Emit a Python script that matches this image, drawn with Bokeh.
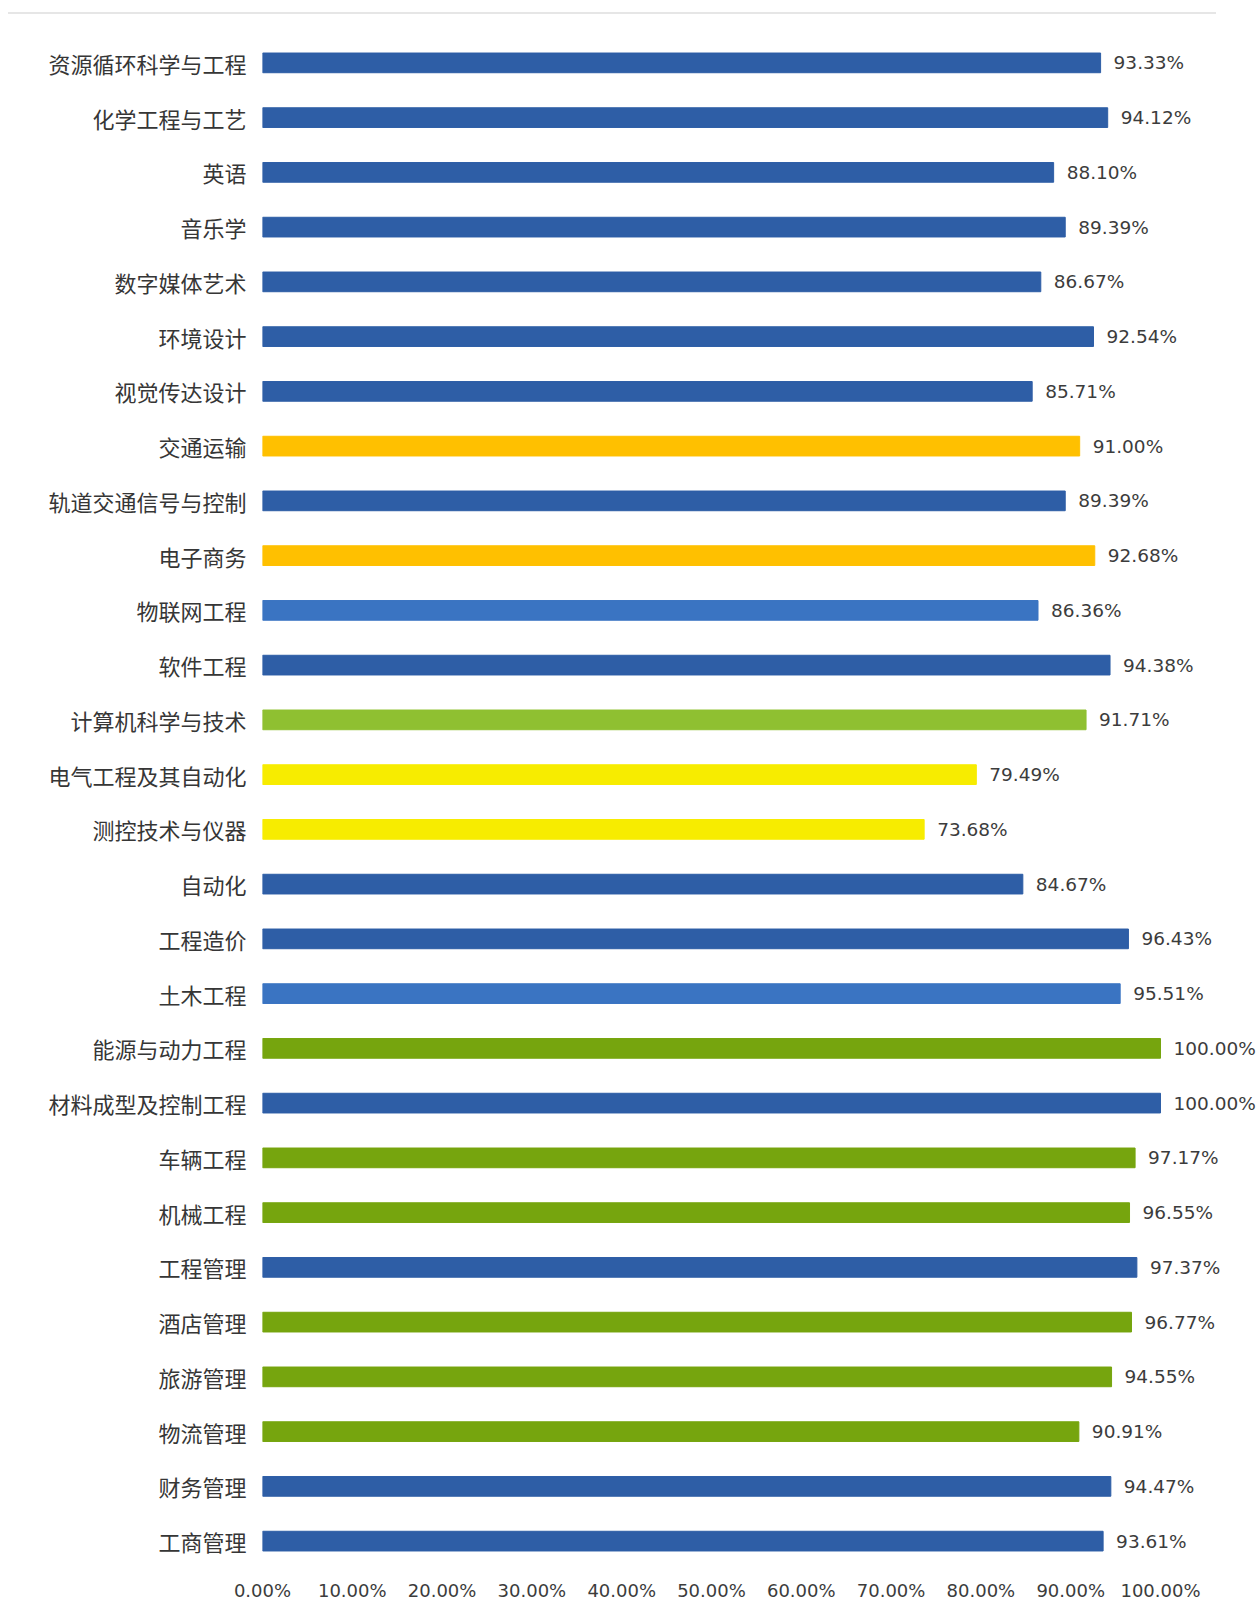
from bokeh.plotting import figure
from bokeh.models import FactorRange, Range1d, ColumnDataSource, FixedTicker, CustomJSTickFormatter
from bokeh.core.properties import value
from bokeh.embed import file_html
from bokeh.resources import INLINE

majors = ["资源循环科学与工程", "化学工程与工艺", "英语", "音乐学", "数字媒体艺术", "环境设计",
          "视觉传达设计", "交通运输", "轨道交通信号与控制", "电子商务", "物联网工程", "软件工程",
          "计算机科学与技术", "电气工程及其自动化", "测控技术与仪器", "自动化", "工程造价", "土木工程",
          "能源与动力工程", "材料成型及控制工程", "车辆工程", "机械工程", "工程管理", "酒店管理",
          "旅游管理", "物流管理", "财务管理", "工商管理"]
rates = [93.33, 94.12, 88.10, 89.39, 86.67, 92.54, 85.71, 91.00, 89.39, 92.68, 86.36, 94.38,
         91.71, 79.49, 73.68, 84.67, 96.43, 95.51, 100.00, 100.00, 97.17, 96.55, 97.37, 96.77,
         94.55, 90.91, 94.47, 93.61]
x_ticks = [0, 10, 20, 30, 40, 50, 60, 70, 80, 90, 100]

BLUE, LBLUE, ORANGE, LGREEN, YELLOW, GREEN = "#2E5EA6", "#3A74C2", "#FFC000", "#8FC031", "#F7EC00", "#76A50E"
bar_colors = [BLUE, BLUE, BLUE, BLUE, BLUE, BLUE, BLUE, ORANGE, BLUE, ORANGE, LBLUE, BLUE,
              LGREEN, YELLOW, YELLOW, BLUE, BLUE, LBLUE, GREEN, BLUE, GREEN, GREEN, BLUE, GREEN,
              GREEN, GREEN, BLUE, BLUE]

src = ColumnDataSource(dict(
    major=majors, rate=rates, color=bar_colors,
    label=["%.2f%%" % r for r in rates],
))

W, H = 1248, 1595
left, top = 254, 21
frame_h = 28 * 54.75
bottom = int(round(H - top - frame_h))
p = figure(width=W, height=H, output_backend="svg", toolbar_location=None,
           y_range=FactorRange(factors=list(reversed(majors))),
           x_range=Range1d(0, 100 * (W - left) / 898.0),
           min_border_left=left, min_border_right=0,
           min_border_top=top, min_border_bottom=bottom)
p.hbar(y="major", right="rate", left=0, height=0.36, color="color", source=src)
p.text(x="rate", y="major", text="label", source=src, x_offset=13,
       text_align="left", text_baseline="middle", text_font=value("DejaVu Sans"),
       text_font_size="18.5px", text_color="#3C3C3C")

p.xgrid.visible = False
p.ygrid.visible = False
p.outline_line_color = None
for ax in (p.xaxis[0], p.yaxis[0]):
    ax.axis_line_color = None
    ax.major_tick_line_color = None
    ax.minor_tick_line_color = None
p.yaxis.major_label_text_font = "Noto Sans CJK SC"
p.yaxis.major_label_text_font_size = "22px"
p.yaxis.major_label_text_color = "#363636"
p.yaxis.major_label_standoff = 10
p.xaxis.ticker = FixedTicker(ticks=x_ticks)
p.xaxis.formatter = CustomJSTickFormatter(code="return tick.toFixed(2) + '%';")
p.xaxis.major_label_text_font = "DejaVu Sans"
p.xaxis.major_label_text_font_size = "18px"
p.xaxis.major_label_text_color = "#3C3C3C"
p.xaxis.major_label_standoff = 5
p.styles = {"margin-top": "12px", "margin-left": "8px",
            "border-top": "2px solid transparent",
            "background": "linear-gradient(#E6E6E6, #E6E6E6) 0 0 / 1208px 2px no-repeat border-box"}

open("out.html", "w").write(file_html(p, INLINE))
